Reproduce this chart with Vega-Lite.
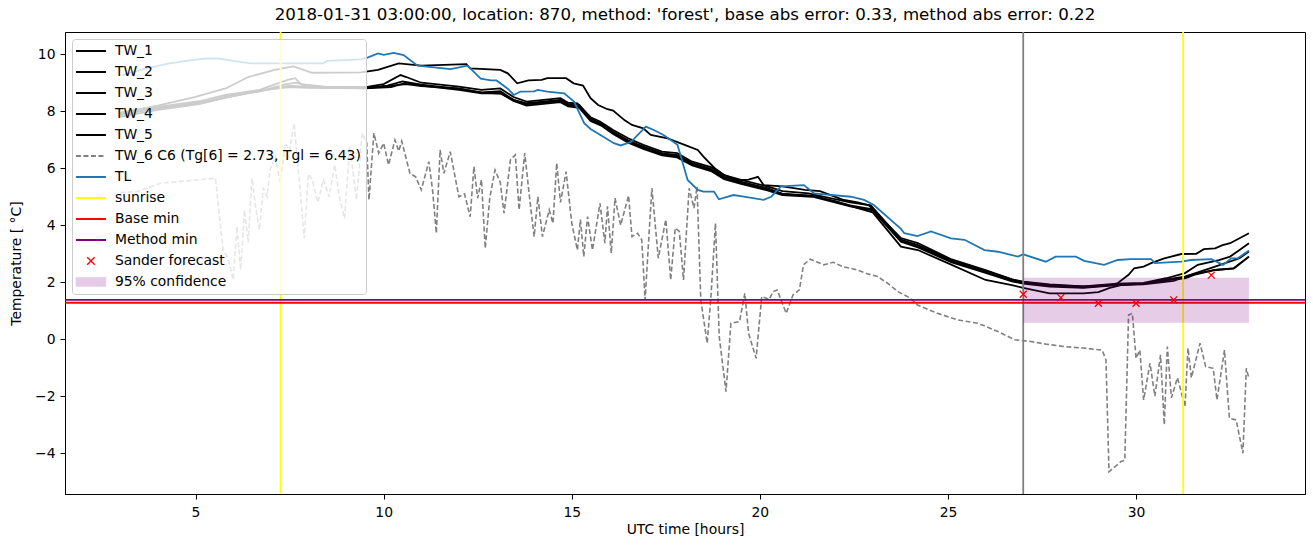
{
  "$schema": "https://vega.github.io/schema/vega-lite/v6.json",
  "width": 1240,
  "height": 462,
  "autosize": "none",
  "padding": {"left": 65, "top": 32, "right": 9, "bottom": 53},
  "config": {
    "font": "DejaVu Sans",
    "view": {"stroke": "black", "strokeWidth": 1},
    "axis": {"grid": false, "domainColor": "black", "tickColor": "black", "labelColor": "black", "titleColor": "black", "labelFontSize": 13.9, "titleFontSize": 13.9, "titleFontWeight": "normal", "tickSize": 5}
  },
  "title": {"text": "2018-01-31 03:00:00, location: 870, method: 'forest', base abs error: 0.33, method abs error: 0.22", "fontSize": 16.67, "fontWeight": "normal", "color": "black", "offset": 7},
  "datasets": {
    "tw": [
      {"t":3.0,"v":7.95,"s":"TW_1"},{"t":4.0,"v":8.2,"s":"TW_1"},{"t":5.0,"v":8.5,"s":"TW_1"},{"t":5.8,"v":8.8,"s":"TW_1"},{"t":6.4,"v":9.2,"s":"TW_1"},{"t":7.1,"v":9.45,"s":"TW_1"},{"t":7.6,"v":9.57,"s":"TW_1"},{"t":8.1,"v":9.35,"s":"TW_1"},{"t":9.4,"v":9.36,"s":"TW_1"},{"t":9.85,"v":9.45,"s":"TW_1"},{"t":10.4,"v":9.68,"s":"TW_1"},{"t":11.0,"v":9.6,"s":"TW_1"},{"t":12.2,"v":9.65,"s":"TW_1"},{"t":12.3,"v":9.5,"s":"TW_1"},{"t":13.1,"v":9.45,"s":"TW_1"},{"t":13.3,"v":9.33,"s":"TW_1"},{"t":13.55,"v":8.98,"s":"TW_1"},{"t":13.85,"v":9.08,"s":"TW_1"},{"t":14.2,"v":9.1,"s":"TW_1"},{"t":14.35,"v":9.16,"s":"TW_1"},{"t":14.85,"v":9.16,"s":"TW_1"},{"t":15.05,"v":8.98,"s":"TW_1"},{"t":15.3,"v":8.9,"s":"TW_1"},{"t":15.5,"v":8.46,"s":"TW_1"},{"t":15.7,"v":8.22,"s":"TW_1"},{"t":15.95,"v":8.07,"s":"TW_1"},{"t":16.1,"v":8.02,"s":"TW_1"},{"t":16.4,"v":7.69,"s":"TW_1"},{"t":16.6,"v":7.52,"s":"TW_1"},{"t":16.9,"v":7.4,"s":"TW_1"},{"t":17.1,"v":7.17,"s":"TW_1"},{"t":17.55,"v":7.05,"s":"TW_1"},{"t":18.0,"v":6.82,"s":"TW_1"},{"t":18.35,"v":6.64,"s":"TW_1"},{"t":18.5,"v":6.41,"s":"TW_1"},{"t":18.8,"v":6.0,"s":"TW_1"},{"t":19.05,"v":5.76,"s":"TW_1"},{"t":19.4,"v":5.59,"s":"TW_1"},{"t":19.7,"v":5.6,"s":"TW_1"},{"t":19.95,"v":5.7,"s":"TW_1"},{"t":20.1,"v":5.41,"s":"TW_1"},{"t":20.6,"v":5.36,"s":"TW_1"},{"t":21.2,"v":5.24,"s":"TW_1"},{"t":21.6,"v":5.2,"s":"TW_1"},{"t":22.2,"v":4.9,"s":"TW_1"},{"t":22.6,"v":4.8,"s":"TW_1"},{"t":22.9,"v":4.7,"s":"TW_1"},{"t":23.75,"v":3.55,"s":"TW_1"},{"t":24.2,"v":3.37,"s":"TW_1"},{"t":25.1,"v":2.8,"s":"TW_1"},{"t":26.0,"v":2.43,"s":"TW_1"},{"t":26.7,"v":2.1,"s":"TW_1"},{"t":27.0,"v":2.0,"s":"TW_1"},{"t":27.7,"v":1.9,"s":"TW_1"},{"t":28.6,"v":1.85,"s":"TW_1"},{"t":29.3,"v":1.9,"s":"TW_1"},{"t":29.5,"v":1.96,"s":"TW_1"},{"t":29.8,"v":2.26,"s":"TW_1"},{"t":29.95,"v":2.49,"s":"TW_1"},{"t":30.2,"v":2.55,"s":"TW_1"},{"t":30.4,"v":2.67,"s":"TW_1"},{"t":30.75,"v":2.84,"s":"TW_1"},{"t":31.2,"v":2.99,"s":"TW_1"},{"t":31.6,"v":3.0,"s":"TW_1"},{"t":31.8,"v":3.16,"s":"TW_1"},{"t":32.1,"v":3.19,"s":"TW_1"},{"t":32.3,"v":3.3,"s":"TW_1"},{"t":32.5,"v":3.37,"s":"TW_1"},{"t":33.0,"v":3.72,"s":"TW_1"},

      {"t":3.0,"v":7.85,"s":"TW_2"},{"t":4.0,"v":8.15,"s":"TW_2"},{"t":5.1,"v":8.35,"s":"TW_2"},{"t":5.8,"v":8.57,"s":"TW_2"},{"t":6.7,"v":8.75,"s":"TW_2"},{"t":7.45,"v":9.1,"s":"TW_2"},{"t":7.65,"v":9.16,"s":"TW_2"},{"t":7.8,"v":8.95,"s":"TW_2"},{"t":8.5,"v":8.85,"s":"TW_2"},{"t":9.6,"v":8.86,"s":"TW_2"},{"t":10.0,"v":8.95,"s":"TW_2"},{"t":10.45,"v":9.27,"s":"TW_2"},{"t":10.6,"v":9.2,"s":"TW_2"},{"t":11.0,"v":9.0,"s":"TW_2"},{"t":12.0,"v":8.86,"s":"TW_2"},{"t":12.6,"v":8.75,"s":"TW_2"},{"t":13.1,"v":8.8,"s":"TW_2"},{"t":13.45,"v":8.5,"s":"TW_2"},{"t":13.8,"v":8.34,"s":"TW_2"},{"t":14.7,"v":8.46,"s":"TW_2"},{"t":14.9,"v":8.3,"s":"TW_2"},{"t":15.15,"v":8.28,"s":"TW_2"},{"t":15.5,"v":7.79,"s":"TW_2"},{"t":15.75,"v":7.64,"s":"TW_2"},{"t":16.1,"v":7.34,"s":"TW_2"},{"t":16.5,"v":7.05,"s":"TW_2"},{"t":16.9,"v":6.82,"s":"TW_2"},{"t":17.4,"v":6.58,"s":"TW_2"},{"t":17.8,"v":6.53,"s":"TW_2"},{"t":18.2,"v":6.23,"s":"TW_2"},{"t":18.7,"v":6.04,"s":"TW_2"},{"t":19.05,"v":5.76,"s":"TW_2"},{"t":19.5,"v":5.59,"s":"TW_2"},{"t":20.2,"v":5.36,"s":"TW_2"},{"t":20.6,"v":5.2,"s":"TW_2"},{"t":21.3,"v":5.12,"s":"TW_2"},{"t":21.5,"v":5.06,"s":"TW_2"},{"t":22.4,"v":4.8,"s":"TW_2"},{"t":22.95,"v":4.7,"s":"TW_2"},{"t":23.75,"v":3.5,"s":"TW_2"},{"t":24.2,"v":3.3,"s":"TW_2"},{"t":25.1,"v":2.78,"s":"TW_2"},{"t":26.0,"v":2.4,"s":"TW_2"},{"t":26.7,"v":2.1,"s":"TW_2"},{"t":27.0,"v":2.02,"s":"TW_2"},{"t":27.7,"v":1.92,"s":"TW_2"},{"t":28.6,"v":1.85,"s":"TW_2"},{"t":29.5,"v":1.95,"s":"TW_2"},{"t":30.2,"v":1.98,"s":"TW_2"},{"t":30.8,"v":2.14,"s":"TW_2"},{"t":31.3,"v":2.32,"s":"TW_2"},{"t":31.64,"v":2.61,"s":"TW_2"},{"t":32.2,"v":2.78,"s":"TW_2"},{"t":32.5,"v":2.9,"s":"TW_2"},{"t":32.75,"v":3.13,"s":"TW_2"},{"t":33.0,"v":3.37,"s":"TW_2"},

      {"t":3.0,"v":7.9,"s":"TW_3"},{"t":4.0,"v":8.1,"s":"TW_3"},{"t":5.1,"v":8.3,"s":"TW_3"},{"t":5.9,"v":8.5,"s":"TW_3"},{"t":6.7,"v":8.7,"s":"TW_3"},{"t":7.4,"v":8.95,"s":"TW_3"},{"t":7.7,"v":9.0,"s":"TW_3"},{"t":8.0,"v":8.85,"s":"TW_3"},{"t":9.5,"v":8.82,"s":"TW_3"},{"t":10.1,"v":8.9,"s":"TW_3"},{"t":10.5,"v":9.05,"s":"TW_3"},{"t":11.0,"v":8.93,"s":"TW_3"},{"t":12.0,"v":8.78,"s":"TW_3"},{"t":12.6,"v":8.66,"s":"TW_3"},{"t":13.1,"v":8.7,"s":"TW_3"},{"t":13.45,"v":8.4,"s":"TW_3"},{"t":13.8,"v":8.24,"s":"TW_3"},{"t":14.7,"v":8.36,"s":"TW_3"},{"t":14.9,"v":8.21,"s":"TW_3"},{"t":15.2,"v":8.16,"s":"TW_3"},{"t":15.5,"v":7.7,"s":"TW_3"},{"t":15.8,"v":7.52,"s":"TW_3"},{"t":16.1,"v":7.24,"s":"TW_3"},{"t":16.5,"v":6.94,"s":"TW_3"},{"t":16.9,"v":6.72,"s":"TW_3"},{"t":17.4,"v":6.49,"s":"TW_3"},{"t":17.8,"v":6.42,"s":"TW_3"},{"t":18.2,"v":6.14,"s":"TW_3"},{"t":18.7,"v":5.94,"s":"TW_3"},{"t":19.05,"v":5.66,"s":"TW_3"},{"t":19.5,"v":5.49,"s":"TW_3"},{"t":20.2,"v":5.26,"s":"TW_3"},{"t":20.6,"v":5.1,"s":"TW_3"},{"t":21.4,"v":5.04,"s":"TW_3"},{"t":22.4,"v":4.7,"s":"TW_3"},{"t":23.0,"v":4.56,"s":"TW_3"},{"t":23.75,"v":3.45,"s":"TW_3"},{"t":24.2,"v":3.25,"s":"TW_3"},{"t":25.1,"v":2.74,"s":"TW_3"},{"t":26.0,"v":2.35,"s":"TW_3"},{"t":26.7,"v":2.05,"s":"TW_3"},{"t":27.0,"v":1.98,"s":"TW_3"},{"t":27.7,"v":1.88,"s":"TW_3"},{"t":28.6,"v":1.82,"s":"TW_3"},{"t":29.5,"v":1.92,"s":"TW_3"},{"t":30.2,"v":1.95,"s":"TW_3"},{"t":30.8,"v":2.1,"s":"TW_3"},{"t":31.3,"v":2.2,"s":"TW_3"},{"t":32.1,"v":2.55,"s":"TW_3"},{"t":32.75,"v":2.84,"s":"TW_3"},{"t":33.0,"v":3.08,"s":"TW_3"},

      {"t":3.0,"v":7.8,"s":"TW_4"},{"t":4.0,"v":8.05,"s":"TW_4"},{"t":5.1,"v":8.25,"s":"TW_4"},{"t":5.9,"v":8.5,"s":"TW_4"},{"t":6.7,"v":8.72,"s":"TW_4"},{"t":7.5,"v":8.85,"s":"TW_4"},{"t":8.0,"v":8.82,"s":"TW_4"},{"t":9.5,"v":8.8,"s":"TW_4"},{"t":10.2,"v":8.85,"s":"TW_4"},{"t":10.6,"v":9.0,"s":"TW_4"},{"t":11.0,"v":8.9,"s":"TW_4"},{"t":12.0,"v":8.75,"s":"TW_4"},{"t":12.6,"v":8.63,"s":"TW_4"},{"t":13.1,"v":8.64,"s":"TW_4"},{"t":13.45,"v":8.36,"s":"TW_4"},{"t":13.8,"v":8.2,"s":"TW_4"},{"t":14.7,"v":8.32,"s":"TW_4"},{"t":14.9,"v":8.17,"s":"TW_4"},{"t":15.2,"v":8.12,"s":"TW_4"},{"t":15.5,"v":7.66,"s":"TW_4"},{"t":15.8,"v":7.48,"s":"TW_4"},{"t":16.1,"v":7.2,"s":"TW_4"},{"t":16.5,"v":6.9,"s":"TW_4"},{"t":16.9,"v":6.68,"s":"TW_4"},{"t":17.4,"v":6.45,"s":"TW_4"},{"t":17.8,"v":6.38,"s":"TW_4"},{"t":18.2,"v":6.1,"s":"TW_4"},{"t":18.7,"v":5.9,"s":"TW_4"},{"t":19.05,"v":5.62,"s":"TW_4"},{"t":19.5,"v":5.45,"s":"TW_4"},{"t":20.2,"v":5.22,"s":"TW_4"},{"t":20.6,"v":5.06,"s":"TW_4"},{"t":21.4,"v":5.0,"s":"TW_4"},{"t":22.4,"v":4.66,"s":"TW_4"},{"t":23.0,"v":4.52,"s":"TW_4"},{"t":23.75,"v":3.42,"s":"TW_4"},{"t":24.2,"v":3.22,"s":"TW_4"},{"t":25.1,"v":2.7,"s":"TW_4"},{"t":26.0,"v":2.33,"s":"TW_4"},{"t":26.7,"v":2.03,"s":"TW_4"},{"t":27.0,"v":1.95,"s":"TW_4"},{"t":27.7,"v":1.85,"s":"TW_4"},{"t":28.6,"v":1.8,"s":"TW_4"},{"t":29.5,"v":1.9,"s":"TW_4"},{"t":30.2,"v":1.93,"s":"TW_4"},{"t":31.0,"v":2.05,"s":"TW_4"},{"t":31.5,"v":2.28,"s":"TW_4"},{"t":32.1,"v":2.43,"s":"TW_4"},{"t":32.6,"v":2.49,"s":"TW_4"},{"t":33.0,"v":2.9,"s":"TW_4"},

      {"t":3.0,"v":7.9,"s":"TW_5"},{"t":4.0,"v":8.12,"s":"TW_5"},{"t":5.1,"v":8.28,"s":"TW_5"},{"t":5.9,"v":8.55,"s":"TW_5"},{"t":6.7,"v":8.7,"s":"TW_5"},{"t":7.5,"v":8.9,"s":"TW_5"},{"t":8.0,"v":8.85,"s":"TW_5"},{"t":9.5,"v":8.8,"s":"TW_5"},{"t":10.2,"v":8.9,"s":"TW_5"},{"t":10.6,"v":8.95,"s":"TW_5"},{"t":11.0,"v":8.88,"s":"TW_5"},{"t":12.0,"v":8.8,"s":"TW_5"},{"t":12.6,"v":8.65,"s":"TW_5"},{"t":13.1,"v":8.62,"s":"TW_5"},{"t":13.45,"v":8.4,"s":"TW_5"},{"t":13.8,"v":8.28,"s":"TW_5"},{"t":14.7,"v":8.4,"s":"TW_5"},{"t":14.9,"v":8.26,"s":"TW_5"},{"t":15.2,"v":8.22,"s":"TW_5"},{"t":15.5,"v":7.74,"s":"TW_5"},{"t":15.8,"v":7.56,"s":"TW_5"},{"t":16.1,"v":7.28,"s":"TW_5"},{"t":16.5,"v":6.98,"s":"TW_5"},{"t":16.9,"v":6.76,"s":"TW_5"},{"t":17.4,"v":6.53,"s":"TW_5"},{"t":17.8,"v":6.46,"s":"TW_5"},{"t":18.2,"v":6.18,"s":"TW_5"},{"t":18.7,"v":5.98,"s":"TW_5"},{"t":19.05,"v":5.7,"s":"TW_5"},{"t":19.5,"v":5.53,"s":"TW_5"},{"t":20.2,"v":5.3,"s":"TW_5"},{"t":20.6,"v":5.1,"s":"TW_5"},{"t":21.4,"v":5.02,"s":"TW_5"},{"t":22.0,"v":4.85,"s":"TW_5"},{"t":22.6,"v":4.6,"s":"TW_5"},{"t":23.0,"v":4.45,"s":"TW_5"},{"t":23.75,"v":3.25,"s":"TW_5"},{"t":24.2,"v":3.13,"s":"TW_5"},{"t":25.1,"v":2.61,"s":"TW_5"},{"t":26.0,"v":2.08,"s":"TW_5"},{"t":26.7,"v":1.9,"s":"TW_5"},{"t":27.0,"v":1.8,"s":"TW_5"},{"t":27.7,"v":1.61,"s":"TW_5"},{"t":28.6,"v":1.61,"s":"TW_5"},{"t":29.0,"v":1.65,"s":"TW_5"},{"t":29.3,"v":1.8,"s":"TW_5"},{"t":29.6,"v":1.9,"s":"TW_5"},{"t":30.2,"v":1.95,"s":"TW_5"},{"t":31.0,"v":2.1,"s":"TW_5"},{"t":31.3,"v":2.14,"s":"TW_5"},{"t":31.6,"v":2.28,"s":"TW_5"},{"t":32.1,"v":2.43,"s":"TW_5"},{"t":32.6,"v":2.49,"s":"TW_5"},{"t":33.0,"v":2.9,"s":"TW_5"}
    ],
    "tw6": [
      {"t":3.0,"v":5.15},{"t":3.45,"v":5.18},{"t":4.07,"v":5.47},{"t":4.78,"v":5.56},{"t":5.53,"v":5.65},{"t":5.73,"v":3.13},{"t":5.85,"v":2.9},{"t":6.0,"v":2.08},{"t":6.1,"v":3.95},{"t":6.2,"v":2.43},{"t":6.3,"v":4.54},{"t":6.4,"v":3.4},{"t":6.5,"v":5.65},{"t":6.6,"v":4.6},{"t":6.7,"v":3.83},{"t":6.8,"v":5.3},{"t":6.9,"v":5.0},{"t":6.98,"v":5.94},{"t":7.12,"v":6.41},{"t":7.25,"v":5.5},{"t":7.39,"v":6.88},{"t":7.5,"v":6.6},{"t":7.62,"v":7.58},{"t":7.75,"v":5.7},{"t":7.89,"v":3.54},{"t":8.0,"v":5.8},{"t":8.1,"v":5.6},{"t":8.25,"v":4.8},{"t":8.4,"v":5.6},{"t":8.55,"v":5.0},{"t":8.7,"v":6.12},{"t":8.82,"v":5.0},{"t":8.96,"v":4.24},{"t":9.1,"v":6.76},{"t":9.28,"v":4.89},{"t":9.43,"v":7.23},{"t":9.55,"v":6.88},{"t":9.61,"v":4.89},{"t":9.74,"v":7.23},{"t":9.87,"v":6.53},{"t":10.0,"v":6.88},{"t":10.13,"v":6.12},{"t":10.3,"v":6.99},{"t":10.4,"v":6.6},{"t":10.48,"v":6.95},{"t":10.7,"v":5.82},{"t":10.85,"v":5.7},{"t":11.0,"v":5.24},{"t":11.2,"v":6.23},{"t":11.3,"v":5.24},{"t":11.4,"v":3.72},{"t":11.5,"v":6.64},{"t":11.6,"v":5.82},{"t":11.77,"v":6.58},{"t":12.0,"v":5.0},{"t":12.15,"v":5.1},{"t":12.3,"v":4.3},{"t":12.4,"v":6.06},{"t":12.5,"v":4.95},{"t":12.6,"v":5.6},{"t":12.7,"v":3.19},{"t":12.82,"v":4.95},{"t":12.96,"v":5.94},{"t":13.1,"v":5.5},{"t":13.2,"v":4.42},{"t":13.37,"v":6.29},{"t":13.5,"v":6.47},{"t":13.6,"v":4.54},{"t":13.75,"v":6.53},{"t":13.88,"v":4.95},{"t":14.0,"v":3.6},{"t":14.1,"v":5.0},{"t":14.22,"v":3.6},{"t":14.4,"v":4.54},{"t":14.5,"v":4.07},{"t":14.6,"v":6.18},{"t":14.7,"v":4.8},{"t":14.85,"v":5.88},{"t":15.0,"v":4.07},{"t":15.15,"v":3.13},{"t":15.23,"v":4.2},{"t":15.32,"v":2.9},{"t":15.42,"v":4.3},{"t":15.55,"v":3.13},{"t":15.75,"v":4.77},{"t":15.88,"v":3.37},{"t":15.95,"v":4.66},{"t":16.05,"v":3.02},{"t":16.15,"v":4.95},{"t":16.3,"v":4.0},{"t":16.51,"v":5.04},{"t":16.6,"v":3.6},{"t":16.75,"v":3.72},{"t":16.86,"v":3.49},{"t":16.95,"v":1.38},{"t":17.05,"v":3.6},{"t":17.13,"v":5.3},{"t":17.3,"v":2.84},{"t":17.5,"v":4.2},{"t":17.63,"v":2.08},{"t":17.75,"v":3.9},{"t":17.86,"v":3.78},{"t":17.97,"v":2.08},{"t":18.12,"v":5.3},{"t":18.25,"v":4.6},{"t":18.33,"v":5.36},{"t":18.43,"v":1.38},{"t":18.6,"v":-0.14},{"t":18.7,"v":1.5},{"t":18.82,"v":4.07},{"t":18.92,"v":0.09},{"t":19.1,"v":-1.84},{"t":19.23,"v":0.56},{"t":19.46,"v":0.62},{"t":19.6,"v":1.61},{"t":19.7,"v":0.21},{"t":19.9,"v":-0.67},{"t":20.05,"v":1.5},{"t":20.25,"v":1.4},{"t":20.35,"v":1.67},{"t":20.46,"v":1.73},{"t":20.7,"v":0.91},{"t":20.88,"v":1.55},{"t":21.05,"v":1.73},{"t":21.16,"v":2.61},{"t":21.34,"v":2.81},{"t":21.5,"v":2.72},{"t":21.7,"v":2.61},{"t":21.95,"v":2.7},{"t":22.2,"v":2.55},{"t":22.6,"v":2.43},{"t":22.85,"v":2.3},{"t":23.13,"v":2.2},{"t":23.4,"v":1.96},{"t":23.67,"v":1.67},{"t":24.0,"v":1.44},{"t":24.19,"v":1.2},{"t":24.72,"v":0.91},{"t":25.26,"v":0.68},{"t":25.8,"v":0.56},{"t":26.33,"v":0.27},{"t":26.78,"v":-0.02},{"t":27.2,"v":-0.08},{"t":27.6,"v":-0.17},{"t":28.1,"v":-0.26},{"t":28.6,"v":-0.31},{"t":29.1,"v":-0.38},{"t":29.2,"v":-0.73},{"t":29.28,"v":-4.65},{"t":29.6,"v":-4.29},{"t":29.7,"v":-4.25},{"t":29.8,"v":0.85},{"t":29.9,"v":0.91},{"t":30.0,"v":-0.67},{"t":30.1,"v":-0.38},{"t":30.2,"v":-2.13},{"t":30.37,"v":-0.84},{"t":30.5,"v":-2.0},{"t":30.65,"v":-0.55},{"t":30.75,"v":-3.0},{"t":30.83,"v":-0.26},{"t":30.94,"v":-2.05},{"t":31.1,"v":-1.35},{"t":31.3,"v":-2.36},{"t":31.38,"v":-0.31},{"t":31.47,"v":-1.35},{"t":31.7,"v":-0.14},{"t":31.85,"v":-0.96},{"t":32.05,"v":-1.02},{"t":32.15,"v":-2.13},{"t":32.35,"v":-0.38},{"t":32.48,"v":-2.77},{"t":32.66,"v":-2.83},{"t":32.84,"v":-4.0},{"t":32.93,"v":-1.02},{"t":33.0,"v":-1.37}
    ],
    "tl": [
      {"t":3.05,"v":9.27},{"t":3.7,"v":9.5},{"t":4.3,"v":9.68},{"t":4.95,"v":9.8},{"t":5.3,"v":9.85},{"t":5.6,"v":9.85},{"t":6.1,"v":9.75},{"t":6.46,"v":9.68},{"t":8.4,"v":9.68},{"t":8.5,"v":9.77},{"t":9.4,"v":9.82},{"t":9.57,"v":9.88},{"t":9.85,"v":10.03},{"t":10.0,"v":9.98},{"t":10.27,"v":10.05},{"t":10.53,"v":9.97},{"t":10.9,"v":9.6},{"t":11.78,"v":9.48},{"t":12.23,"v":9.6},{"t":12.58,"v":9.14},{"t":12.85,"v":9.08},{"t":13.0,"v":9.08},{"t":13.29,"v":8.8},{"t":13.46,"v":8.57},{"t":13.64,"v":8.69},{"t":14.0,"v":8.7},{"t":14.1,"v":8.75},{"t":14.35,"v":8.69},{"t":14.8,"v":8.63},{"t":15.06,"v":8.34},{"t":15.33,"v":7.58},{"t":15.5,"v":7.38},{"t":16.12,"v":6.88},{"t":16.3,"v":6.8},{"t":16.57,"v":6.92},{"t":16.97,"v":7.46},{"t":17.18,"v":7.34},{"t":17.45,"v":7.16},{"t":17.81,"v":6.82},{"t":18.08,"v":5.59},{"t":18.35,"v":5.24},{"t":18.5,"v":5.18},{"t":18.78,"v":5.18},{"t":18.91,"v":4.91},{"t":19.3,"v":5.06},{"t":19.57,"v":5.0},{"t":20.1,"v":4.89},{"t":20.3,"v":5.0},{"t":20.56,"v":5.36},{"t":21.17,"v":5.41},{"t":21.44,"v":5.12},{"t":22.42,"v":5.0},{"t":22.77,"v":4.89},{"t":23.03,"v":4.71},{"t":23.75,"v":3.87},{"t":23.84,"v":3.72},{"t":24.19,"v":3.62},{"t":24.55,"v":3.78},{"t":25.08,"v":3.54},{"t":25.44,"v":3.49},{"t":25.97,"v":3.13},{"t":26.33,"v":3.07},{"t":26.86,"v":2.9},{"t":27.0,"v":2.98},{"t":27.6,"v":2.72},{"t":27.86,"v":2.9},{"t":28.4,"v":2.9},{"t":28.62,"v":2.75},{"t":29.15,"v":2.61},{"t":29.51,"v":2.78},{"t":29.86,"v":2.81},{"t":30.4,"v":2.81},{"t":30.5,"v":2.67},{"t":31.2,"v":2.72},{"t":31.46,"v":2.78},{"t":32.0,"v":2.81},{"t":32.31,"v":2.61},{"t":32.53,"v":2.84},{"t":32.7,"v":2.84},{"t":33.0,"v":3.11}
    ]
  },
  "encoding": {
    "x": {"type": "quantitative", "scale": {"domain": [1.53, 34.49], "nice": false, "zero": false}, "axis": {"title": "UTC time [hours]", "values": [5, 10, 15, 20, 25, 30], "labelPadding": 6}},
    "y": {"type": "quantitative", "scale": {"domain": [-5.43, 10.78], "nice": false, "zero": false}, "axis": {"title": "Temperature [ °C]", "values": [-4, -2, 0, 2, 4, 6, 8, 10], "labelPadding": 5, "titlePadding": 11}}
  },
  "layer": [
    {
      "data": {"name": "tw"},
      "mark": {"type": "line", "strokeWidth": 1.8},
      "encoding": {"x": {"field": "t"}, "y": {"field": "v"}, "color": {"field": "s", "type": "nominal",
        "scale": {"domain": ["TW_1", "TW_2", "TW_3", "TW_4", "TW_5", "TW_6 C6 (Tg[6] = 2.73, Tgl = 6.43)", "TL", "sunrise", "Base min", "Method min", "Sander forecast", "95% confidence"],
                  "range": ["black", "black", "black", "black", "black", "gray", "#1f77b4", "yellow", "red", "purple", "red", "purple"]},
        "legend": {
          "title": null, "orient": "top-left", "offset": 7,
          "fillColor": "rgba(255,255,255,0.8)", "strokeColor": "#cccccc", "cornerRadius": 3, "padding": 5,
          "labelFontSize": 13.9, "labelColor": "black", "labelLimit": 500, "labelOffset": 17,
          "symbolSize": 100, "symbolOffset": 7, "rowPadding": 6,
          "symbolType": {"expr": "datum.value == 'Sander forecast' ? 'M-0.75,-0.75L0.75,0.75M-0.75,0.75L0.75,-0.75' : datum.value == '95% confidence' ? 'M-3,-0.9H3V0.9H-3Z' : 'M-3,0H3'"},
          "symbolFillColor": {"expr": "datum.value == '95% confidence' ? 'purple' : 'transparent'"},
          "symbolStrokeWidth": {"expr": "datum.value == '95% confidence' ? 0.5 : datum.value == 'Sander forecast' ? 1.4 : 2"},
          "symbolDash": {"expr": "datum.value == 'TW_6 C6 (Tg[6] = 2.73, Tgl = 6.43)' ? [5, 2.5] : [1, 0]"},
          "symbolOpacity": {"expr": "datum.value == '95% confidence' ? 0.2 : 1"}
        }}}
    },
    {
      "data": {"name": "tw6"},
      "mark": {"type": "line", "strokeWidth": 1.6, "strokeDash": [5, 2.5]},
      "encoding": {"x": {"field": "t"}, "y": {"field": "v"}, "color": {"datum": "TW_6 C6 (Tg[6] = 2.73, Tgl = 6.43)", "type": "nominal", "legend": null}}
    },
    {
      "data": {"name": "tl"},
      "mark": {"type": "line", "strokeWidth": 1.8},
      "encoding": {"x": {"field": "t"}, "y": {"field": "v"}, "color": {"datum": "TL", "type": "nominal", "legend": null}}
    },
    {
      "data": {"values": [{"t": 27.0}]},
      "mark": {"type": "rule", "strokeWidth": 1.8, "color": "gray"},
      "encoding": {"x": {"field": "t"}}
    },
    {
      "data": {"values": [{"t": 7.26, "s": "sunrise"}, {"t": 31.25, "s": "sunrise"}]},
      "mark": {"type": "rule", "strokeWidth": 1.8},
      "encoding": {"x": {"field": "t"}, "color": {"field": "s", "type": "nominal", "legend": null}}
    },
    {
      "data": {"values": [{"v": 1.28, "s": "Base min"}, {"v": 1.38, "s": "Method min"}]},
      "mark": {"type": "rule", "strokeWidth": 1.8},
      "encoding": {"y": {"field": "v"}, "color": {"field": "s", "type": "nominal", "legend": null}}
    },
    {
      "data": {"values": [{"t": 27, "v": 1.58, "s": "Sander forecast"}, {"t": 28, "v": 1.46, "s": "Sander forecast"}, {"t": 29, "v": 1.26, "s": "Sander forecast"}, {"t": 30, "v": 1.26, "s": "Sander forecast"}, {"t": 31, "v": 1.38, "s": "Sander forecast"}, {"t": 32, "v": 2.25, "s": "Sander forecast"}]},
      "mark": {"type": "point", "shape": "M-1,-1L1,1M-1,1L1,-1", "size": 49, "filled": false, "strokeWidth": 1.3, "opacity": 1},
      "encoding": {"x": {"field": "t"}, "y": {"field": "v"}, "color": {"field": "s", "type": "nominal", "legend": null}}
    },
    {
      "data": {"values": [{"t": 27, "t2": 33, "v": 2.16, "v2": 0.58, "s": "95% confidence"}]},
      "mark": {"type": "rect", "opacity": 0.2},
      "encoding": {
        "x": {"field": "t"}, "x2": {"field": "t2"},
        "y": {"field": "v"}, "y2": {"field": "v2"},
        "color": {"field": "s", "type": "nominal", "legend": null}
      }
    }
  ]
}
